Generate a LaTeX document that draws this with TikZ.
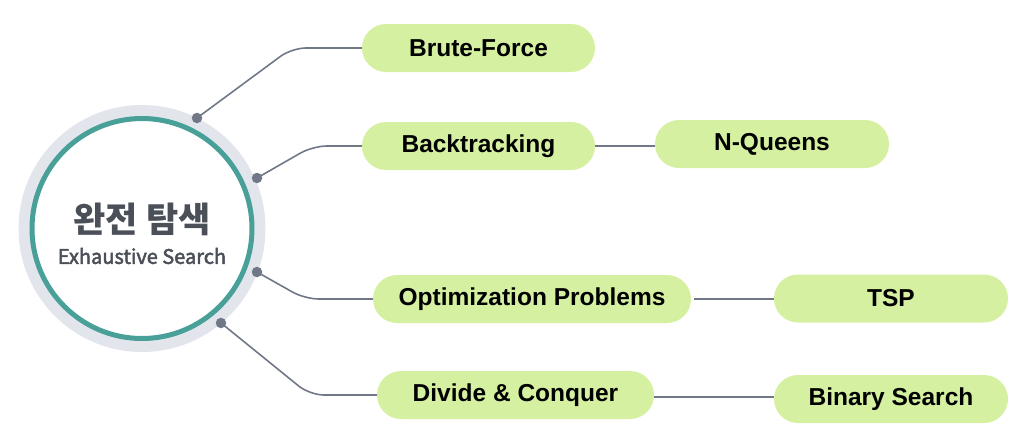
\documentclass[tikz,border=0pt]{standalone}
\usepackage{fontspec}
\setmainfont{Liberation Sans}
\newfontfamily\cjk{Noto Sans CJK KR}
\newfontfamily\cjkmed[FakeBold=2.5]{Noto Sans CJK KR}
\definecolor{pillgreen}{RGB}{212,240,160}
\definecolor{linkgray}{RGB}{112,119,135}
\definecolor{ringgray}{RGB}{227,229,236}
\definecolor{hubteal}{RGB}{72,160,152}
\definecolor{hubtext}{RGB}{75,79,88}
\begin{document}
\begin{tikzpicture}[x=1pt,y=-1pt,
  pill/.style={fill=pillgreen, rounded corners=24pt, minimum height=48pt, inner sep=0pt,
    font=\bfseries\fontsize{24.5}{29}\selectfont, text=black},
  link/.style={draw=linkgray, line width=1.6pt},
  dotm/.style={circle, fill=linkgray, minimum size=10.5pt, inner sep=0pt}]
\useasboundingbox (0,0) rectangle (1033,445);
% hub
\fill[ringgray] (142,228.5) circle (123.5);
\fill[white] (142,228.5) circle (110);
\draw[hubteal, line width=5pt] (142,228.5) circle (110);
\node[text=hubtext, font=\cjk\bfseries\fontsize{35}{38}\selectfont, inner sep=0pt] (hubk) at (142,219) {완전 탐색};
\node[text=hubtext, font=\cjkmed\fontsize{20}{24}\selectfont, inner sep=0pt] (hube) at (142,256) {Exhaustive Search};
% nodes
\node[pill, minimum width=233pt] (bf) at (478.5,48) {Brute-Force};
\node[pill, minimum width=233pt] (bt) at (478.5,146) {Backtracking};
\node[pill, minimum width=234pt] (nq) at (772,144) {N-Queens};
\node[pill, minimum width=318pt] (op) at (532,299) {Optimization Problems};
\node[pill, minimum width=234pt] (tsp) at (891,298.5) {TSP};
\node[pill, minimum width=277pt] (dc) at (515.5,395) {Divide \& Conquer};
\node[pill, minimum width=234pt] (bs) at (891,399) {Binary Search};
% dots
\node[dotm] (d1) at (197,118) {};
\node[dotm] (d2) at (257,178) {};
\node[dotm] (d3) at (257,272) {};
\node[dotm] (d4) at (221,323) {};
% links
\draw[link, rounded corners=14pt] (d1.center) -- ([xshift=-70pt]bf.west) -- (bf.west);
\draw[link, rounded corners=14pt] (d2.center) -- ([xshift=-49pt]bt.west) -- (bt.west);
\draw[link, rounded corners=14pt] (d3.center) -- ([xshift=-68pt]op.west) -- (op.west);
\draw[link, rounded corners=14pt] (d4.center) -- ([xshift=-67pt]dc.west) -- (dc.west);
\draw[link] (bt.east) -- (bt.east -| nq.west);
\draw[link] ([xshift=3pt]op.east) -- (op.east -| tsp.west);
\draw[link] ([yshift=-2pt]dc.east) -- ([yshift=2pt]bs.west);
\end{tikzpicture}
\end{document}
